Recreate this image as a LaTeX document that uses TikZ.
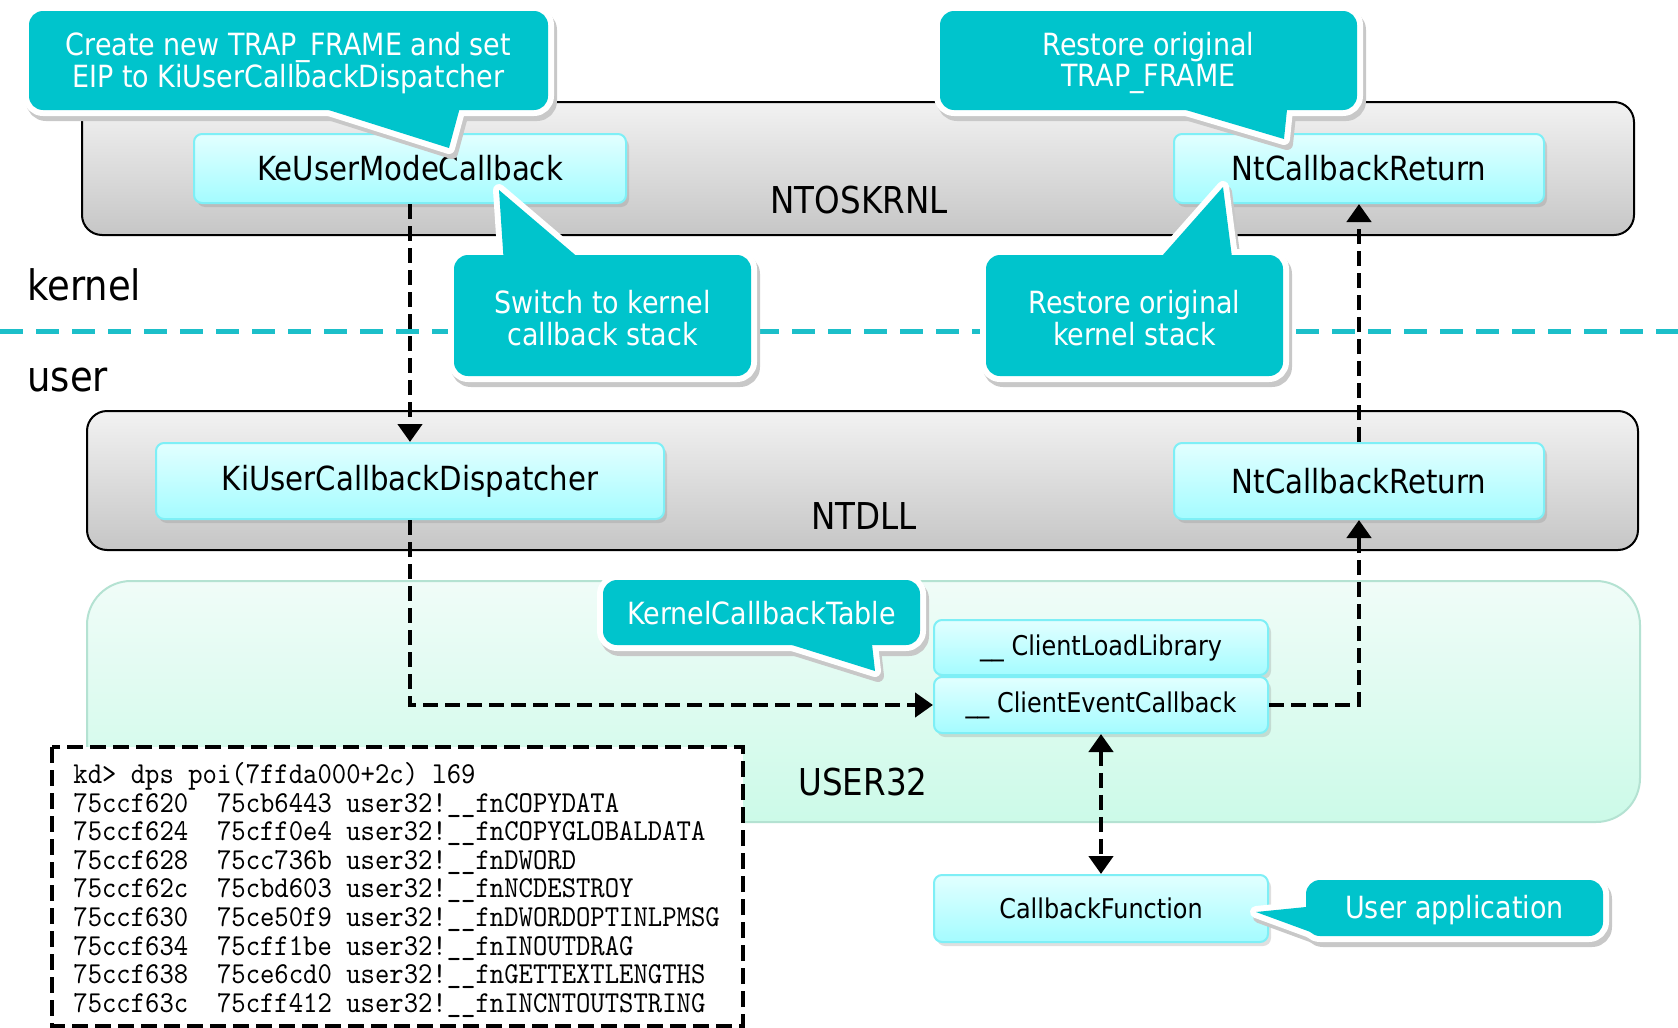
\documentclass[tikz,border=0pt]{standalone}
\usepackage{fontspec}
\setmainfont{DejaVu Sans}[FakeStretch=0.88]
\newfontfamily\dumpfont{lmmono10-regular.otf}[FakeStretch=0.9]
\usetikzlibrary{arrows.meta,shadows}
\definecolor{calloutfill}{HTML}{00C4CC}
\definecolor{sepcol}{HTML}{1CBFC9}
\definecolor{nodetop}{HTML}{E2FFFF}
\definecolor{nodebot}{HTML}{A4FCFF}
\definecolor{nodeedge}{HTML}{7EEFF6}
\definecolor{graytop}{HTML}{F2F2F2}
\definecolor{graybot}{HTML}{C6C6C6}
\definecolor{usertop}{HTML}{F0FCF8}
\definecolor{userbot}{HTML}{CCFAE8}
\definecolor{useredge}{HTML}{B4E2D2}
\definecolor{cshadowcol}{HTML}{C8C8C8}
\tikzset{
  fnbox/.style={draw=nodeedge, line width=1pt, rounded corners=4pt, top color=nodetop, bottom color=nodebot,
    drop shadow={shadow xshift=1.5pt, shadow yshift=-2pt, opacity=0.25}, inner sep=0pt, text=black},
  bigfn/.style={fnbox, font=\fontsize{16.6}{18}\selectfont},
  smallfn/.style={fnbox, font=\fontsize{13.6}{15}\selectfont, minimum width=167pt},
  module/.style={draw=black, line width=1pt, rounded corners=10pt, top color=graytop, bottom color=graybot},
  usermodule/.style={draw=useredge, line width=1pt, rounded corners=22pt, top color=usertop, bottom color=userbot},
  modlabel/.style={font=\fontsize{18.5}{20}\selectfont, text=black, inner sep=0pt},
  flow/.style={draw=black, line width=2.4pt, dash pattern=on 7.5pt off 3.5pt, -{Triangle[width=12pt,length=9pt]}},
  flowboth/.style={flow, {Triangle[width=12pt,length=9pt]}-{Triangle[width=12pt,length=9pt]}},
  dumpframe/.style={draw=black, fill=white, line width=2.2pt, dash pattern=on 8pt off 3.5pt},
  sepline/.style={draw=sepcol, line width=2.5pt, dash pattern=on 11.5pt off 6.5pt},
  cshadow/.style={fill=cshadowcol, draw=cshadowcol, line width=6pt, line join=round},
  cborder/.style={draw=white, line width=6pt, line join=round},
  cfill/.style={fill=calloutfill},
  ctext/.style={text=white, align=center, font=\fontsize{15.3}{15.6}\selectfont, inner sep=0pt},
  sidelabel/.style={anchor=west, font=\fontsize{21}{23}\selectfont, inner sep=0pt, text=black},
}
\newcommand\drawcallout[2]{%
  \begin{scope}[shift={(1.5pt,-2.5pt)}]
    \path[cshadow, rounded corners=7pt] #1; \path[cshadow] #2 -- cycle;
  \end{scope}
  \path[cborder, rounded corners=7pt] #1; \path[cborder] #2 -- cycle;
  \path[cfill, rounded corners=7pt] #1; \path[cfill] #2 -- cycle;
}
\begin{document}
\begin{tikzpicture}[x=0.5pt,y=-0.5pt]
\useasboundingbox[fill=white] (0,0) rectangle (1678,1028);

% modules
\path[module] (82,102) rectangle (1634,235);
\node[modlabel] (ntoslbl) at (859,200) {NTOSKRNL};
\path[module] (87,411) rectangle (1638,550);
\node[modlabel] (ntdlllbl) at (864,516) {NTDLL};
\path[usermodule] (87,581) rectangle (1640,822);
\node[modlabel] (u32lbl) at (863,782) {USER32};

% kernel / user separator
\coordinate (sepL) at (0,331);
\coordinate (sepR) at (1678,331);
\draw[sepline] (sepL) -- (sepR);
\node[sidelabel] (kern) at (27,285) {kernel};
\node[sidelabel] (usr) at (27,380) {user};

% dump box
\path[dumpframe] (52,747) rectangle (743,1026);
\node[anchor=north west, inner sep=0pt, align=left, font=\dumpfont\fontsize{15.2}{14.3}\selectfont] (dump) at (73,762)
{kd> dps poi(7ffda000+2c) l69\\
75ccf620~~75cb6443 user32!\_\_fnCOPYDATA\\
75ccf624~~75cff0e4 user32!\_\_fnCOPYGLOBALDATA\\
75ccf628~~75cc736b user32!\_\_fnDWORD\\
75ccf62c~~75cbd603 user32!\_\_fnNCDESTROY\\
75ccf630~~75ce50f9 user32!\_\_fnDWORDOPTINLPMSG\\
75ccf634~~75cff1be user32!\_\_fnINOUTDRAG\\
75ccf638~~75ce6cd0 user32!\_\_fnGETTEXTLENGTHS\\
75ccf63c~~75cff412 user32!\_\_fnINCNTOUTSTRING};

% function nodes
\node[bigfn, minimum width=216pt, minimum height=34.5pt] (kumc) at (410,168.5) {KeUserModeCallback};
\node[bigfn, minimum width=185pt, minimum height=34.5pt] (ncr1) at (1359,168.5) {NtCallbackReturn};
\node[bigfn, minimum width=254pt, minimum height=38pt] (kucd) at (410,481) {KiUserCallbackDispatcher};
\node[bigfn, minimum width=185pt, minimum height=38pt] (ncr2) at (1359,481) {NtCallbackReturn};
\node[smallfn, minimum height=27.5pt, text depth=2pt] (cll) at (1101,647.5) {\_\_ ClientLoadLibrary};
\node[smallfn, minimum height=28pt] (cec) at (1101,705) {\_\_ ClientEventCallback};
\node[smallfn, minimum height=33.5pt] (cbf) at (1101,908.5) {CallbackFunction};

% flows
\draw[flow] (kumc.south) -- (kucd.north);
\draw[flow] (kucd.south) |- (cec.west);
\draw[flow] (cec.east) -| (ncr2.south);
\draw[flow] (ncr2.north) -- (ncr1.south);
\draw[flowboth] (cec.south) -- (cbf.north);

% callouts
\drawcallout{(29,11) rectangle (548,110)}{(297,100) -- (449,148) -- (462,100)}
\node[ctext] (tA) at (288.5,63) {Create new TRAP\_FRAME and set\\EIP to KiUserCallbackDispatcher};
\drawcallout{(940,11) rectangle (1357,110)}{(1152,100) -- (1284,139) -- (1288,100)}
\node[ctext] (tB) at (1148.5,63) {Restore original\\TRAP\_FRAME};
\drawcallout{(454,255) rectangle (751,376)}{(504,265) -- (499,190) -- (587,265)}
\node[ctext] (tC) at (602.5,318) {Switch to kernel\\callback stack};
\drawcallout{(986,255) rectangle (1283,376)}{(1154,265) -- (1223,187) -- (1233,265)}
\node[ctext] (tD) at (1134.5,318) {Restore original\\kernel stack};
\drawcallout{(603,580) rectangle (920,645)}{(760,635) -- (875,671) -- (871,635)}
\node[ctext] (tK) at (761.5,613) {KernelCallbackTable};
\drawcallout{(1306,880) rectangle (1603,936)}{(1316,906) -- (1256,912) -- (1316,934)}
\node[ctext] (tU) at (1454.5,910) {User application};
\end{tikzpicture}
\end{document}
